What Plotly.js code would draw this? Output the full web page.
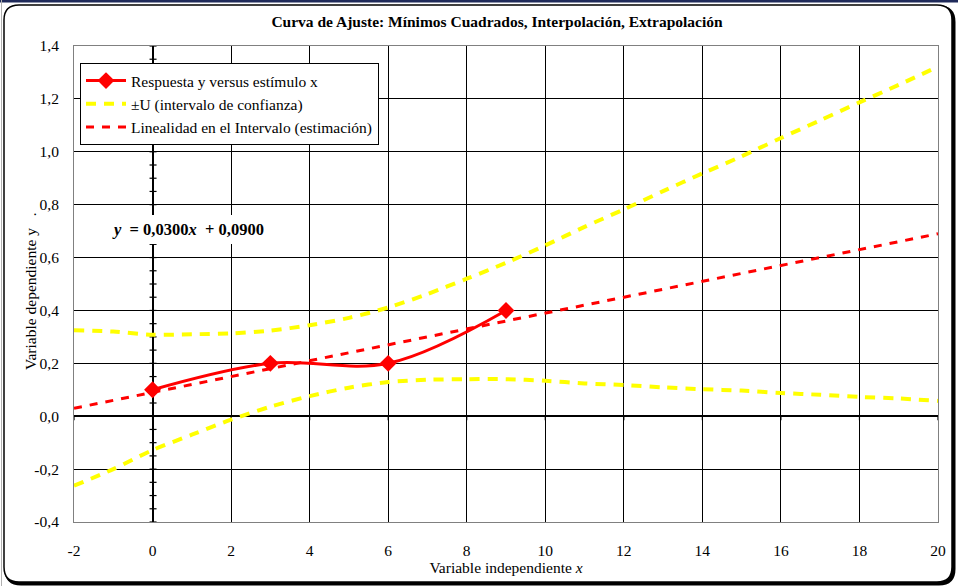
<!DOCTYPE html>
<html>
<head>
<meta charset="utf-8">
<script src="https://cdn.plot.ly/plotly-3.0.1.min.js"></script>
<style>html,body{margin:0;padding:0;background:#fff;}#chart{width:958px;height:586px;}</style>
</head>
<body>
<div id="chart"></div>
<script>
// ---- Data ----
var respX = [0, 3, 6, 9];
var respY = [0.10, 0.20, 0.20, 0.40];

var bandX = [-2, -1, 0, 1, 2, 3, 4, 5, 6, 7, 8, 9, 10, 11, 12, 13, 14, 15, 16, 17, 18, 19, 20];
var bandUpper = [0.325, 0.320, 0.308, 0.310, 0.313, 0.324, 0.344, 0.372, 0.411, 0.462, 0.520, 0.580, 0.646, 0.716, 0.782, 0.851, 0.918, 0.983, 1.052, 1.119, 1.187, 1.253, 1.322];
var bandLower = [-0.263, -0.200, -0.128, -0.070, -0.013, 0.036, 0.076, 0.108, 0.129, 0.138, 0.140, 0.140, 0.134, 0.124, 0.118, 0.109, 0.102, 0.097, 0.088, 0.081, 0.073, 0.067, 0.058];

var fitX = [-2, 20];
var fitY = [0.03, 0.69];

var xTickVals = [-2, 0, 2, 4, 6, 8, 10, 12, 14, 16, 18, 20];
var xTickText = ["-2", "0", "2", "4", "6", "8", "10", "12", "14", "16", "18", "20"];
var yTickVals = [-0.4, -0.2, 0, 0.2, 0.4, 0.6, 0.8, 1.0, 1.2, 1.4];
var yTickText = ["-0,4", "-0,2", "0,0", "0,2", "0,4", "0,6", "0,8", "1,0", "1,2", "1,4"];

var seriesNames = ["Respuesta y versus estímulo x", "±U (intervalo de confianza)", "Linealidad en el Intervalo (estimación)"];
var chartTitle = "Curva de Ajuste: Mínimos Cuadrados, Interpolación, Extrapolación";
var xTitle = "Variable independiente <i>x</i>";
var yTitle = "Variable dependiente y   .";
var equationText = "<b><i>y</i>  = 0,0300<i>x</i>  + 0,0900</b>";

// ---- Layout helpers (pixel -> paper) ----
var M = {l: 74, r: 20, t: 46, b: 64};
var W = 958, H = 586;
var PW = W - M.l - M.r, PH = H - M.t - M.b;
function px(p) { return (p - M.l) / PW; }
function py(p) { return (H - M.b - p) / PH; }
function roundRect(L, T, R, B, r) {
  return 'M' + px(L + r) + ',' + py(T) +
    ' L' + px(R - r) + ',' + py(T) +
    ' Q' + px(R) + ',' + py(T) + ' ' + px(R) + ',' + py(T + r) +
    ' L' + px(R) + ',' + py(B - r) +
    ' Q' + px(R) + ',' + py(B) + ' ' + px(R - r) + ',' + py(B) +
    ' L' + px(L + r) + ',' + py(B) +
    ' Q' + px(L) + ',' + py(B) + ' ' + px(L) + ',' + py(B - r) +
    ' L' + px(L) + ',' + py(T + r) +
    ' Q' + px(L) + ',' + py(T) + ' ' + px(L + r) + ',' + py(T) + ' Z';
}

var FONT = "Times New Roman, Liberation Serif, serif";

var traces = [
  {
    x: fitX, y: fitY, mode: 'lines', name: seriesNames[2], legendrank: 3,
    line: {color: '#ff0000', width: 3, dash: '8px,8px'}
  },
  {
    x: bandX, y: bandUpper, mode: 'lines', name: seriesNames[1], legendgroup: 'u', legendrank: 2,
    line: {color: '#ffff00', width: 4, dash: '10px,8px', shape: 'spline', smoothing: 0.8}
  },
  {
    x: bandX, y: bandLower, mode: 'lines', name: seriesNames[1], legendgroup: 'u', showlegend: false,
    line: {color: '#ffff00', width: 4, dash: '10px,8px', shape: 'spline', smoothing: 0.8}
  },
  {
    x: respX, y: respY, mode: 'lines+markers', name: seriesNames[0], legendrank: 1,
    line: {color: '#ff0000', width: 3, shape: 'spline', smoothing: 1},
    marker: {symbol: 'diamond', size: 13, color: '#ff0000'}
  }
];

var shapes = [];
// spreadsheet edge visible at the left and top
shapes.push({type: 'line', xref: 'paper', yref: 'paper', x0: px(0), x1: px(958), y0: py(1), y1: py(1), layer: 'below',
  line: {color: '#1f2a5a', width: 3}});
shapes.push({type: 'line', xref: 'paper', yref: 'paper', x0: px(1.5), x1: px(1.5), y0: py(0), y1: py(586), layer: 'below',
  line: {color: '#b0b0b0', width: 1}});
shapes.push({type: 'path', xref: 'paper', yref: 'paper', path: roundRect(6, 7, 954, 584, 15), layer: 'below',
  line: {color: '#000', width: 3}, fillcolor: '#000'});
shapes.push({type: 'path', xref: 'paper', yref: 'paper', path: roundRect(4, 5, 952, 582, 15), layer: 'below',
  line: {color: '#000', width: 1.5}, fillcolor: '#fff'});
// small tick marks along the crossing axes
for (var k = 0; k <= 36; k++) {
  var yv = -0.4 + k * 0.05;
  shapes.push({type: 'line', xref: 'x', yref: 'y', y0: yv, y1: yv, layer: 'below',
    xsizemode: 'pixel', xanchor: 0, x0: -3, x1: 4, line: {color: '#000', width: 1.2}});
}
for (var j = 0; j < xTickVals.length; j++) {
  shapes.push({type: 'line', xref: 'x', yref: 'y', x0: xTickVals[j], x1: xTickVals[j], layer: 'below',
    ysizemode: 'pixel', yanchor: 0, y0: 0, y1: -4, line: {color: '#000', width: 1.2}});
}

var layout = {
  width: W, height: H,
  margin: M,
  paper_bgcolor: 'rgba(0,0,0,0)',
  plot_bgcolor: '#c0c0c0',
  font: {family: FONT, size: 14, color: '#000'},
  showlegend: true,
  title: {
    text: '<b>' + chartTitle + '</b>', font: {family: FONT, size: 15.5, color: '#000'},
    xref: 'paper', x: px(497), xanchor: 'center', yref: 'container', y: 1 - 22 / H, yanchor: 'middle'
  },
  xaxis: {
    range: [-2, 20], tickvals: xTickVals, ticktext: xTickText, ticks: '', ticklabelstandoff: 14,
    showgrid: true, gridcolor: '#000', gridwidth: 1,
    zeroline: true, zerolinecolor: '#000', zerolinewidth: 2,
    showline: true, linecolor: '#808080', linewidth: 1, mirror: true,
    tickfont: {family: FONT, size: 15.5},
    title: {text: xTitle, font: {family: FONT, size: 15.5}, standoff: 3}
  },
  yaxis: {
    range: [-0.4, 1.4], tickvals: yTickVals, ticktext: yTickText, ticks: '', ticklabelstandoff: 11,
    showgrid: true, gridcolor: '#000', gridwidth: 1,
    zeroline: true, zerolinecolor: '#000', zerolinewidth: 1.5,
    showline: true, linecolor: '#808080', linewidth: 1, mirror: true,
    tickfont: {family: FONT, size: 15.5}
  },
  legend: {
    x: px(80), y: py(63), xanchor: 'left', yanchor: 'top',
    bgcolor: '#fff', bordercolor: '#000', borderwidth: 1, itemwidth: 40,
    font: {family: FONT, size: 15.5}, traceorder: 'normal'
  },
  annotations: [
    {
      xref: 'paper', yref: 'paper', x: px(188), y: py(230), xanchor: 'center', yanchor: 'middle',
      text: equationText, showarrow: false, bgcolor: '#ffffff', bordercolor: '#ffffff', borderwidth: 1, borderpad: 4,
      font: {family: FONT, size: 16.5, color: '#000'}
    },
    {
      xref: 'paper', yref: 'paper', x: px(30), y: py(291), xanchor: 'center', yanchor: 'middle',
      text: yTitle, showarrow: false, textangle: -90,
      font: {family: FONT, size: 15.5, color: '#000'}
    }
  ],
  shapes: shapes
};

Plotly.newPlot('chart', traces, layout, {displayModeBar: false, staticPlot: true});
</script>
</body>
</html>
